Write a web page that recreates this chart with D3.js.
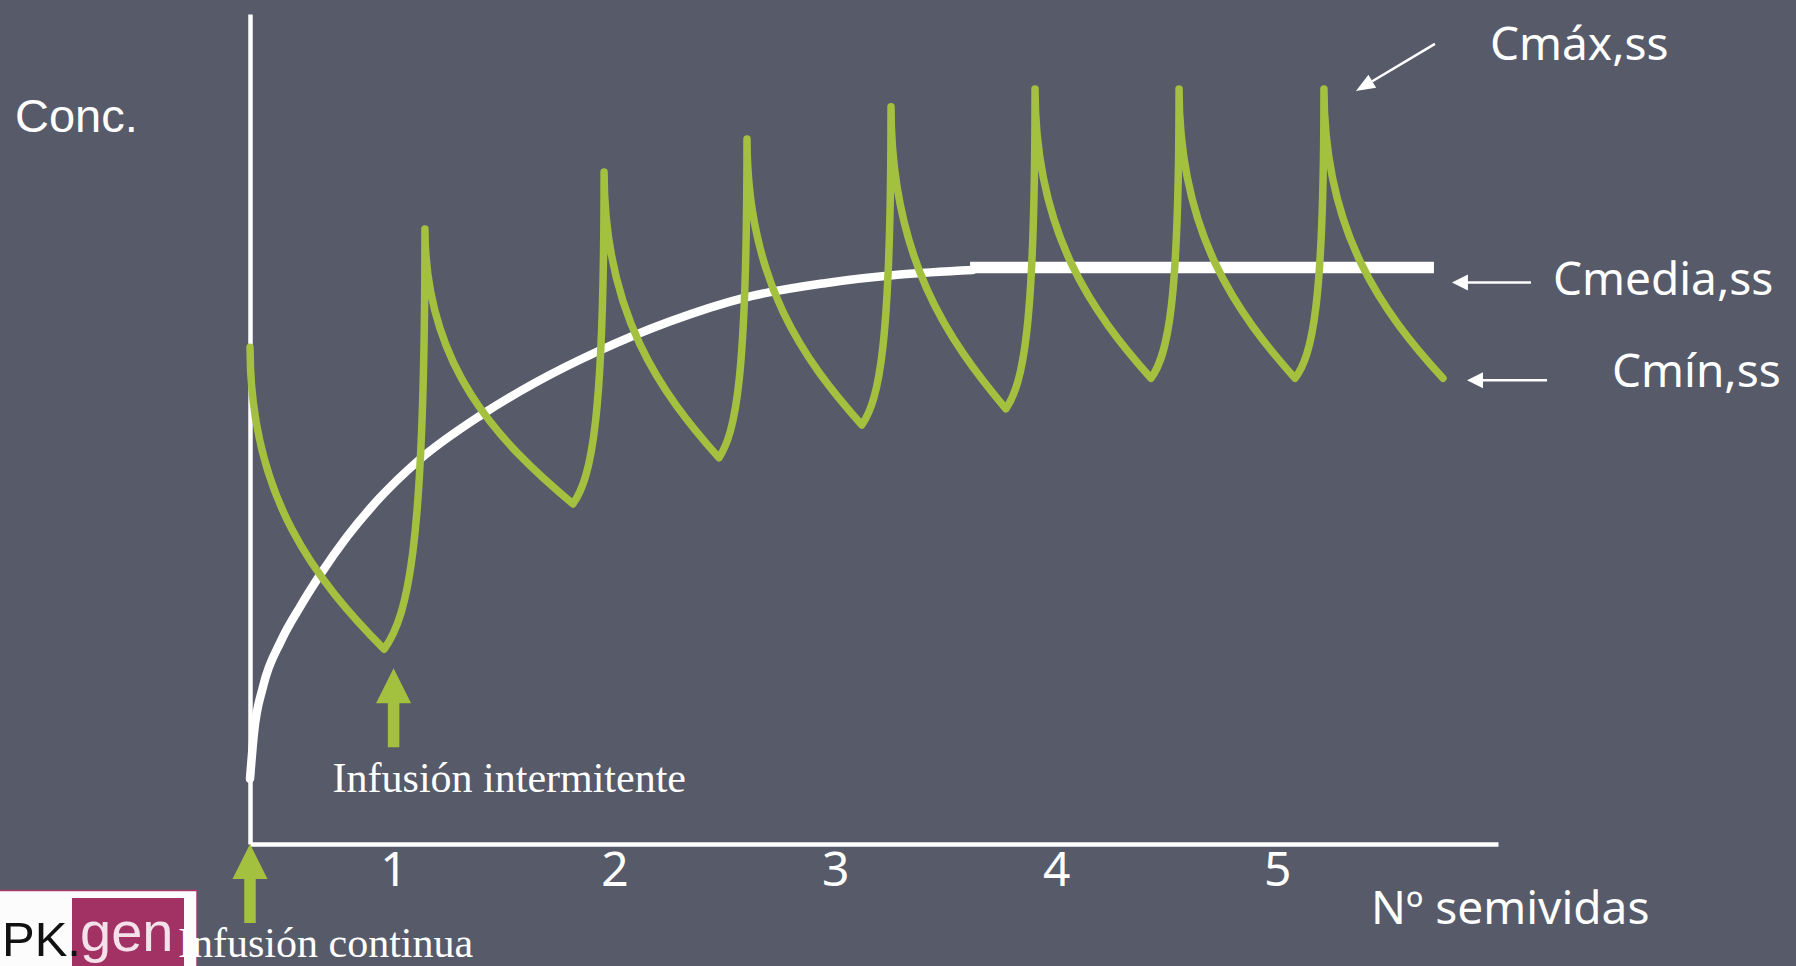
<!DOCTYPE html>
<html>
<head>
<meta charset="utf-8">
<script src="https://cdn.jsdelivr.net/npm/d3@7"></script>
<style>
  html, body { margin: 0; padding: 0; background: #565a69; }
  svg { display: block; }
</style>
</head>
<body>
<svg id="chart" width="1796" height="966"></svg>
<script>
// x: number of half-lives elapsed, y: plasma concentration (% of mean steady state)
const tickValues = [1, 2, 3, 4, 5];
const tickLabels = ["1", "2", "3", "4", "5"];

// Intermittent infusion: alternating peak / trough points
const intermittentTime = [0.35, 0.957, 1.142, 1.812, 1.953, 2.473, 2.600, 3.120, 3.252, 3.772, 3.904, 4.429, 4.556, 5.081, 5.212, 5.751];
const intermittentConc = [86.2, 33.8, 106.7, 59.0, 116.6, 67.0, 122.3, 72.7, 127.9, 75.5, 131.0, 80.8, 131.0, 80.8, 131.0, 80.8];

// Continuous infusion: build-up toward the mean steady-state level
const continuousTime = [0.35, 0.368, 0.409, 0.490, 0.576, 0.671, 0.789, 0.934, 1.115, 1.396, 1.640, 1.921, 2.247, 2.591, 2.953, 3.293, 3.623];
const continuousConc = [11.3, 19.3, 27.3, 35.2, 41.1, 46.9, 53.3, 59.9, 66.6, 74.4, 80.0, 85.4, 90.6, 94.8, 97.3, 98.8, 99.6];

// Steady-state plateau (Cmedia,ss)
const plateauTime = [3.61, 5.71];
const plateauConc = [100, 100];

// Start of each infusion regimen
const infusionLabels = ["Infusión continua", "Infusión intermitente"];
const infusionStart = [0.35, 1.0];

const svg = d3.select("#chart");
const green = "#a3c13f";

const x = d3.scaleLinear().domain([0.35, 6.0]).range([250, 1498]);
const y = d3.scaleLinear().domain([0, 144]).range([844, 14]);

// Dose curve: rises steeply into each peak (vertical tangent at the top),
// then drops sharply and flattens toward the next trough.
function curveDose(context) {
  let px, py, n;
  return {
    areaStart() {}, areaEnd() {},
    lineStart() { n = 0; },
    lineEnd() {},
    point(cx, cy) {
      cx = +cx; cy = +cy;
      if (n === 0) {
        context.moveTo(cx, cy);
      } else {
        const dx = cx - px, dy = cy - py;
        if (dy < 0) {
          context.bezierCurveTo(px + 0.6 * dx, py + 0.08 * dy, cx, py + 0.25 * dy, cx, cy);
        } else {
          context.bezierCurveTo(px, py + 0.5 * dy, px + 0.5 * dx, cy - 0.225 * dy, cx, cy);
        }
      }
      px = cx; py = cy; n++;
    }
  };
}

// Axes
const gx = svg.append("g")
  .attr("transform", `translate(0,${y(0)})`)
  .call(d3.axisBottom(x).tickValues(tickValues)
    .tickFormat((d, i) => tickLabels[i])
    .tickSize(0).tickSizeOuter(0).tickPadding(8));
gx.select(".domain").attr("stroke", "#fff").attr("stroke-width", 4.5);
gx.selectAll("text")
  .attr("fill", "#fff")
  .attr("font-family", "'Noto Sans', sans-serif")
  .attr("font-size", 48);

const gy = svg.append("g")
  .attr("transform", `translate(${x(0.35)},0)`)
  .call(d3.axisLeft(y).tickValues([]).tickSizeOuter(0));
gy.select(".domain").attr("stroke", "#fff").attr("stroke-width", 4.5);

// Continuous infusion build-up and plateau
const contPts = continuousTime.map((t, i) => [t, continuousConc[i]]);
svg.append("path")
  .attr("d", d3.line().x(d => x(d[0])).y(d => y(d[1])).curve(d3.curveMonotoneX)(contPts))
  .attr("fill", "none").attr("stroke", "#fff")
  .attr("stroke-width", 8.5).attr("stroke-linecap", "round");

const platPts = plateauTime.map((t, i) => [t, plateauConc[i]]);
svg.append("path")
  .attr("d", d3.line().x(d => x(d[0])).y(d => y(d[1]))(platPts))
  .attr("fill", "none").attr("stroke", "#fff")
  .attr("stroke-width", 11.5).attr("stroke-linecap", "butt");

// Intermittent infusion profile
const intPts = intermittentTime.map((t, i) => [t, intermittentConc[i]]);
svg.append("path")
  .attr("d", d3.line().x(d => x(d[0])).y(d => y(d[1])).curve(curveDose)(intPts))
  .attr("fill", "none").attr("stroke", green)
  .attr("stroke-width", 7.5)
  .attr("stroke-linecap", "round").attr("stroke-linejoin", "round");

// Green arrows marking the start of each regimen
const arrowShape = "M0,0L17.5,35L5.75,35L5.75,79L-5.75,79L-5.75,35L-17.5,35Z";
const arrowTipY = [y(0), y(intermittentConc[1]) + 19];
const serif = "'Liberation Serif', 'Times New Roman', serif";
infusionStart.forEach((t, i) => {
  svg.append("path")
    .attr("d", arrowShape)
    .attr("transform", `translate(${x(t)},${arrowTipY[i]})`)
    .attr("fill", green);
});

// Axis titles
const sans = "'Noto Sans', sans-serif";
svg.append("text").text("Conc.")
  .attr("x", 15).attr("y", 132)
  .attr("fill", "#fff").attr("font-family", "'Liberation Sans', Arial, sans-serif").attr("font-size", 47);
svg.append("text").text("Nº semividas")
  .attr("x", 1371).attr("y", 924)
  .attr("fill", "#fff").attr("font-family", sans).attr("font-size", 46);

// Steady-state annotations with pointer arrows
function pointer(x1, y1, x2, y2, headLen, headHalf) {
  const ang = Math.atan2(y2 - y1, x2 - x1);
  const bx = x2 - headLen * Math.cos(ang), by = y2 - headLen * Math.sin(ang);
  svg.append("line")
    .attr("x1", x1).attr("y1", y1).attr("x2", bx).attr("y2", by)
    .attr("stroke", "#fff").attr("stroke-width", 2.5);
  const nx = -Math.sin(ang), ny = Math.cos(ang);
  svg.append("path")
    .attr("d", `M${x2},${y2}L${bx + nx * headHalf},${by + ny * headHalf}L${bx - nx * headHalf},${by - ny * headHalf}Z`)
    .attr("fill", "#fff");
}

const last = intermittentTime.length - 1;
const peakX = x(intermittentTime[last - 1]), peakY = y(intermittentConc[last - 1]);
const endX = x(intermittentTime[last]), endY = y(intermittentConc[last]);
const platEndX = x(plateauTime[1]), platY = y(plateauConc[1]);

pointer(peakX + 111, peakY - 45, peakX + 32, peakY + 2, 19, 7.5);
pointer(platEndX + 97, platY + 15, platEndX + 18, platY + 15, 16, 8);
pointer(endX + 104, endY + 2, endX + 24, endY + 2, 16, 8);

svg.append("text").text("Cmáx,ss")
  .attr("x", peakX + 166).attr("y", 60)
  .attr("fill", "#fff").attr("font-family", sans).attr("font-size", 46);
svg.append("text").text("Cmedia,ss")
  .attr("x", platEndX + 119).attr("y", platY + 27)
  .attr("fill", "#fff").attr("font-family", sans).attr("font-size", 46);
svg.append("text").text("Cmín,ss")
  .attr("x", endX + 169).attr("y", endY + 9)
  .attr("fill", "#fff").attr("font-family", sans).attr("font-size", 46);

// Logo block
const logoFont = "'Liberation Sans', Arial, sans-serif";
const logo = svg.append("g");
logo.append("rect")
  .attr("x", -5).attr("y", 890.5).attr("width", 202).attr("height", 80)
  .attr("fill", "#fdfcfd").attr("stroke", "#a8386a").attr("stroke-width", 1.5);
logo.append("rect")
  .attr("x", 72).attr("y", 898).attr("width", 112).attr("height", 70)
  .attr("fill", "#a33264");
logo.append("text").text("PK.")
  .attr("x", 2).attr("y", 956)
  .attr("fill", "#111").attr("font-family", logoFont).attr("font-size", 49);
logo.append("text").text("gen")
  .attr("x", 80).attr("y", 951)
  .attr("fill", "#f5e1ea").attr("font-family", logoFont).attr("font-size", 56);

// Regimen labels
const labelPos = [[x(infusionStart[0]) - 72, 957], [x(infusionStart[1]) - 61, 792]];
infusionLabels.forEach((s, i) => {
  svg.append("text").text(s)
    .attr("x", labelPos[i][0]).attr("y", labelPos[i][1])
    .attr("fill", "#fff").attr("font-family", serif).attr("font-size", 42);
});
</script>
</body>
</html>
